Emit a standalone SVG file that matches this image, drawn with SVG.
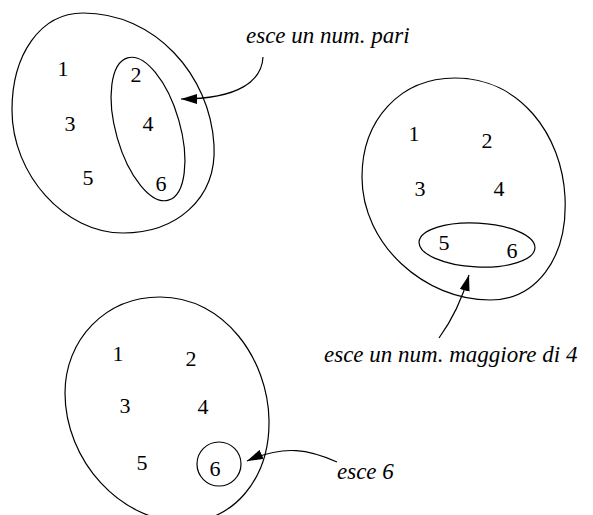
<svg xmlns="http://www.w3.org/2000/svg" width="593" height="515" viewBox="0 0 593 515">
<style>
.s{fill:none;stroke:#000;stroke-width:1.2}
.n{font-family:"Liberation Serif","Times New Roman",serif;font-size:22px;fill:#000;text-anchor:middle}
.l{font-family:"Liberation Serif","Times New Roman",serif;font-size:23px;font-style:italic;fill:#000}
</style>
<defs>
<marker id="ah" markerWidth="16" markerHeight="10" refX="16" refY="5" orient="auto" markerUnits="userSpaceOnUse">
<path d="M0,0 L16,5 L0,10 Z" fill="#000"/>
</marker>
</defs>
<rect width="593" height="515" fill="#fff"/>
<g id="set-pari">
<path class="s" d="M 83 13 C 155 13, 210 75, 214 145 C 217 200, 175 233, 123 233 C 65 233, 12 175, 12 110 C 12 55, 40 13, 83 13 Z"/>
<ellipse class="s" cx="148" cy="129" rx="32" ry="74" transform="rotate(-16 148 129)"/>
<text class="n" x="63" y="76">1</text>
<text class="n" x="136" y="82">2</text>
<text class="n" x="70" y="131">3</text>
<text class="n" x="148" y="131">4</text>
<text class="n" x="88" y="185">5</text>
<text class="n" x="161" y="191">6</text>
</g>
<g id="set-maggiore">
<path class="s" d="M 455 78 C 520 78, 562 135, 565 197 C 568 260, 535 300, 490 300 C 425 300, 362 245, 362 177 C 362 120, 400 78, 455 78 Z"/>
<ellipse class="s" cx="477" cy="245" rx="58" ry="22" transform="rotate(3 477 245)"/>
<text class="n" x="414" y="141">1</text>
<text class="n" x="487" y="148">2</text>
<text class="n" x="420" y="196">3</text>
<text class="n" x="499" y="196">4</text>
<text class="n" x="444" y="250">5</text>
<text class="n" x="512" y="258">6</text>
</g>
<g id="set-sei">
<path class="s" d="M 160 297 C 225 297, 268 360, 269 420 C 270 480, 232 522, 185 522 C 120 522, 65 460, 65 393 C 65 340, 105 297, 160 297 Z"/>
<ellipse class="s" cx="219" cy="464" rx="22" ry="22"/>
<text class="n" x="118" y="361">1</text>
<text class="n" x="191" y="366">2</text>
<text class="n" x="125" y="413">3</text>
<text class="n" x="203" y="414">4</text>
<text class="n" x="142" y="470">5</text>
<text class="n" x="215" y="476">6</text>
</g>
<g id="labels">
<text class="l" x="246" y="43">esce un num. pari</text>
<text class="l" x="324" y="362">esce un num. maggiore di 4</text>
<text class="l" x="337" y="479">esce 6</text>
</g>
<g id="connectors">
<path class="s" marker-end="url(#ah)" d="M 263 57 C 262 80, 240 99, 181 99"/>
<path class="s" marker-end="url(#ah)" d="M 439 338 C 452 320, 462 300, 469 275"/>
<path class="s" marker-end="url(#ah)" d="M 337 462 C 310 450, 285 444, 247 461"/>
</g>
</svg>
